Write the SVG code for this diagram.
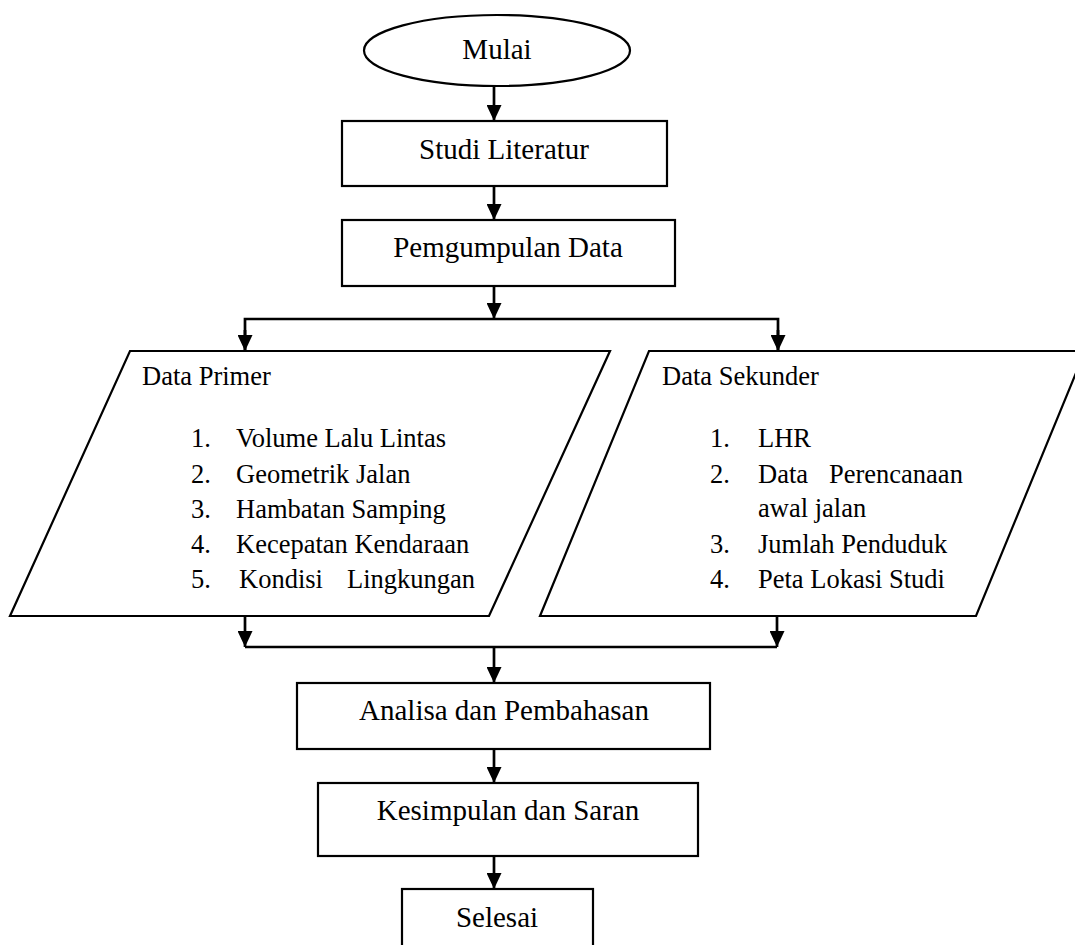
<svg xmlns="http://www.w3.org/2000/svg" width="1075" height="945" viewBox="0 0 1075 945">
<defs>
<style>
.shape{fill:#fff;stroke:#000;stroke-width:2.2}
.conn{fill:none;stroke:#000;stroke-width:2.7}
.t{font-family:"Liberation Serif","Times New Roman",serif;fill:#000}
.big{font-size:29px}
.sm{font-size:26.5px}
.c{text-anchor:middle}
</style>
<marker id="ah" viewBox="0 0 16 15" refX="16" refY="7.5" markerWidth="16" markerHeight="15" markerUnits="userSpaceOnUse" orient="auto">
<path d="M0,0 L16,7.5 L0,15 Z" fill="#000"/>
</marker>
</defs>
<rect width="1075" height="945" fill="#fff"/>
<g id="connectors">
<line class="conn" x1="494" y1="86" x2="494" y2="121" marker-end="url(#ah)"/>
<line class="conn" x1="494" y1="186" x2="494" y2="220" marker-end="url(#ah)"/>
<line class="conn" x1="494" y1="286" x2="494" y2="319" marker-end="url(#ah)"/>
<polyline class="conn" points="245,351 245,319 778,319 778,351"/>
<line class="conn" x1="245" y1="330" x2="245" y2="351" marker-end="url(#ah)"/>
<line class="conn" x1="778" y1="330" x2="778" y2="351" marker-end="url(#ah)"/>
<line class="conn" x1="245" y1="616" x2="245" y2="647" marker-end="url(#ah)"/>
<line class="conn" x1="777" y1="616" x2="777" y2="647" marker-end="url(#ah)"/>
<line class="conn" x1="245" y1="647" x2="777" y2="647"/>
<line class="conn" x1="494" y1="647" x2="494" y2="683" marker-end="url(#ah)"/>
<line class="conn" x1="494" y1="749" x2="494" y2="783" marker-end="url(#ah)"/>
<line class="conn" x1="494" y1="856" x2="494" y2="889" marker-end="url(#ah)"/>
</g>
<g id="mulai">
<ellipse class="shape" cx="497" cy="50.5" rx="133" ry="35.5"/>
<text class="t big c" x="497" y="59">Mulai</text>
</g>
<g id="studi-literatur">
<rect class="shape" x="342" y="121" width="325" height="65"/>
<text class="t big c" x="504" y="159">Studi Literatur</text>
</g>
<g id="pengumpulan-data">
<rect class="shape" x="342" y="220" width="333" height="66"/>
<text class="t big c" x="508" y="257">Pemgumpulan Data</text>
</g>
<g id="data-primer">
<polygon class="shape" points="130,351 610,351 489,616 10,616"/>
<text class="t sm" x="142" y="385">Data Primer</text>
<text class="t sm" x="191" y="447">1.</text><text class="t sm" x="236" y="447">Volume Lalu Lintas</text>
<text class="t sm" x="191" y="483">2.</text><text class="t sm" x="236" y="483">Geometrik Jalan</text>
<text class="t sm" x="191" y="518">3.</text><text class="t sm" x="236" y="518">Hambatan Samping</text>
<text class="t sm" x="191" y="553">4.</text><text class="t sm" x="236" y="553">Kecepatan Kendaraan</text>
<text class="t sm" x="191" y="588">5.</text><text class="t sm" x="239" y="588">Kondisi<tspan x="347">Lingkungan</tspan></text>
</g>
<g id="data-sekunder">
<polygon class="shape" points="649,351 1085,351 976,616 540,616"/>
<text class="t sm" x="662" y="385">Data Sekunder</text>
<text class="t sm" x="710" y="447">1.</text><text class="t sm" x="758" y="447">LHR</text>
<text class="t sm" x="710" y="483">2.</text><text class="t sm" x="758" y="483">Data<tspan x="829">Perencanaan</tspan></text>
<text class="t sm" x="758" y="517">awal jalan</text>
<text class="t sm" x="710" y="553">3.</text><text class="t sm" x="758" y="553">Jumlah Penduduk</text>
<text class="t sm" x="710" y="588">4.</text><text class="t sm" x="758" y="588">Peta Lokasi Studi</text>
</g>
<g id="analisa">
<rect class="shape" x="297" y="683" width="413" height="66"/>
<text class="t big c" x="504" y="720">Analisa dan Pembahasan</text>
</g>
<g id="kesimpulan">
<rect class="shape" x="318" y="783" width="380" height="73"/>
<text class="t big c" x="508" y="820">Kesimpulan dan Saran</text>
</g>
<g id="selesai">
<rect class="shape" x="402" y="889" width="191" height="70"/>
<text class="t big c" x="497" y="927">Selesai</text>
</g>
</svg>
